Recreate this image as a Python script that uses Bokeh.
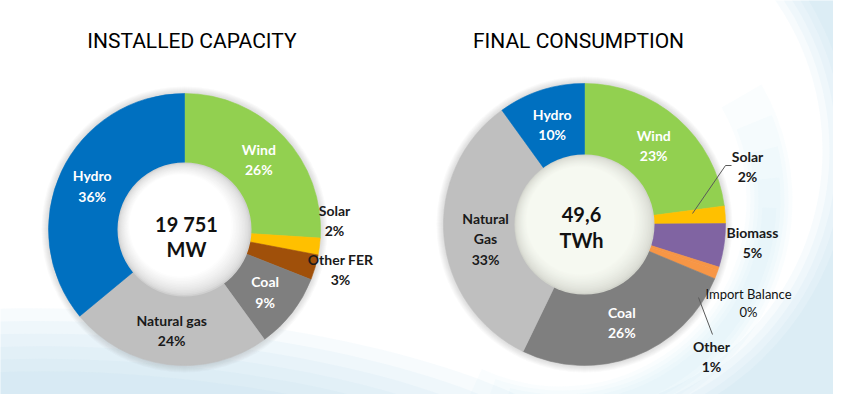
import numpy as np
from bokeh.plotting import figure
from bokeh.models import Range1d, ColumnDataSource
from bokeh.embed import file_html
from bokeh.resources import INLINE
from bokeh.core.properties import value

# ---------------- data ----------------
cap_title = "INSTALLED  CAPACITY"
cap_names = ["Wind", "Solar", "Other FER", "Coal", "Natural gas", "Hydro"]
cap_values = [26, 2, 3, 9, 24, 36]
cap_colors = ["#92D050", "#FFC000", "#A0500A", "#7F7F7F", "#BFBFBF", "#0070C0"]
cap_center = ["19 751", "MW"]

cons_title = "FINAL CONSUMPTION"
cons_names = ["Wind", "Solar", "Biomass", "Import Balance", "Other", "Coal", "Natural Gas", "Hydro"]
cons_values = [23, 2, 5, 0.4, 1, 26, 33, 10]
cons_colors = ["#92D050", "#FFC000", "#8064A2", "#F79646", "#F79646", "#7F7F7F", "#BFBFBF", "#0070C0"]
cons_center = ["49,6", "TWh"]

# ---------------- layout ----------------
W, H, M = 849, 410, 8
PW, PH = W - 2 * M, H - 2 * M
LABEL_FONT = value("Lato")
TITLE_FONT = value("Roboto")

p = figure(width=PW, height=PH,
           x_range=Range1d(0, PW), y_range=Range1d(H - PH, H),
           output_backend="svg", toolbar_location=None, min_border=0,
           x_axis_location=None, y_axis_location=None)
p.grid.visible = False
p.outline_line_color = None
p.background_fill_color = "white"
p.border_fill_color = "white"


def Y(y):
    return H - y


def mix(c1, c2, f):
    a = [int(c1[i:i + 2], 16) for i in (1, 3, 5)]
    b = [int(c2[i:i + 2], 16) for i in (1, 3, 5)]
    return "#%02x%02x%02x" % tuple(int(round(a[k] + (b[k] - a[k]) * f)) for k in range(3))


# ---- soft background swooshes (decoration) ----
d2r = np.pi / 180
for k in range(5):
    p.annular_wedge(x=560, y=Y(150), inner_radius=262 + 7 * k, outer_radius=420,
                    start_angle=(-85 + 4 * k) * d2r, end_angle=(80 - 6 * k) * d2r,
                    fill_color="#a9d2e6", fill_alpha=0.09, line_color=None)
for k in range(5):
    p.annular_wedge(x=560, y=Y(200), inner_radius=186 + 4 * k, outer_radius=232 - 4 * k,
                    start_angle=(-115 + 5 * k) * d2r, end_angle=(30 - 8 * k) * d2r,
                    fill_color="#bcdcec", fill_alpha=0.07, line_color=None)
for k in range(6):
    p.ellipse(x=[170], y=[Y(430)], width=[860 - 60 * k], height=[230 - 25 * k],
              angle=-0.10, fill_color="#b0d5e8", fill_alpha=0.10, line_color=None)
for k in range(3):
    p.ellipse(x=[540], y=[Y(420)], width=[340 - 60 * k], height=[50 - 8 * k],
              fill_color="#c9c2ea", fill_alpha=0.14, line_color=None)


def donut(cx, cy, r_in, r_out, vals, colors, edge, center_col):
    rs = [r_out + k for k in range(7, 0, -1)]
    p.circle(x=[cx] * len(rs), y=[Y(cy)] * len(rs), radius=rs,
             fill_color="#808080", fill_alpha=0.045, line_color=None)
    total = float(sum(vals))
    cum = np.concatenate([[0.0], np.cumsum(vals)]) / total
    src = ColumnDataSource(dict(
        start=np.pi / 2 - 2 * np.pi * cum[1:],
        end=np.pi / 2 - 2 * np.pi * cum[:-1],
        color=colors))
    p.annular_wedge(x=cx, y=Y(cy), inner_radius=r_in - 2, outer_radius=r_out,
                    start_angle="start", end_angle="end",
                    fill_color="color", line_color="color", line_width=0.6,
                    source=src)
    n = 14
    xs, ys, rr, cc = [], [], [], []
    for k in range(n):
        t = k / (n - 1)
        xs.append(cx - 4 * t)
        ys.append(Y(cy) + 4 * t)
        rr.append(r_in - 16 * t)
        cc.append(mix(edge, center_col, t ** 0.6))
    p.circle(x=xs, y=ys, radius=rr, fill_color=cc, line_color=None)
    p.circle(x=[cx - 5], y=[Y(cy) + 5], radius=[r_in - 18],
             fill_color=center_col, line_color=None)
    return (cum[:-1] + cum[1:]) / 2


def text(x, y, s, size, color="#000000", bold=True, font=LABEL_FONT):
    p.text(x=[x], y=[Y(y)], text=[s], text_font=font,
           text_font_size=f"{size}px", text_color=color,
           text_font_style="bold" if bold else "normal",
           text_align="center", text_baseline="middle")


def pct(v):
    return f"{int(round(v))}%"


def labels(cx, cy, r_lab, names, vals, mids, style, outside):
    for name, v, m in zip(names, vals, mids):
        a = 2 * np.pi * m
        kind = style.get(name, "in")
        if name in outside:
            x, y = outside[name]
        else:
            x = cx + r_lab * np.sin(a)
            y = cy - r_lab * np.cos(a)
        if kind == "small":
            text(x, y - 9, name, 13, "#111111", bold=False)
            text(x, y + 9, pct(v), 13, "#111111", bold=False)
            continue
        col = "#ffffff" if kind == "in" else "#1a1a1a"
        lines = name.split(" ") if kind == "stack" else [name]
        lines = lines + [pct(v)]
        step = 20.5
        y0 = y - step * (len(lines) - 1) / 2
        for i, s in enumerate(lines):
            text(x, y0 + i * step, s, 14, col, bold=True)


# ---- left donut ----
lcx, lcy = 184, 229
mids = donut(lcx, lcy, 67, 136, cap_values, cap_colors, "#cfcfcf", "#ffffff")
labels(lcx, lcy, 102, cap_names, cap_values, mids,
       {"Solar": "out", "Other FER": "out", "Natural gas": "dark"},
       {"Solar": (334, 220), "Other FER": (340, 269)})
text(186, 223, cap_center[0], 20, "#111111", bold=True)
text(186, 248, cap_center[1], 20, "#111111", bold=True)

# ---- right donut ----
rcx, rcy = 584, 224
mids = donut(rcx, rcy, 70, 141, cons_values, cons_colors, "#d2d4cc", "#f6f9f1")
p.line(x=[731, 725, 692], y=[Y(165), Y(165), Y(213)], line_color="#595959", line_width=1)
p.line(x=[712, 698], y=[Y(334), Y(297)], line_color="#595959", line_width=1)
labels(rcx, rcy, 105, cons_names, cons_values, mids,
       {"Solar": "out", "Biomass": "out", "Import Balance": "small",
        "Other": "out", "Natural Gas": "stack"},
       {"Solar": (747, 166), "Biomass": (752, 242), "Import Balance": (748, 302),
        "Other": (711, 356), "Natural Gas": (485, 238)})
text(581, 214, cons_center[0], 20, "#111111", bold=True)
text(581, 239, cons_center[1], 20, "#111111", bold=True)

# ---- titles ----
for tx, s in ((194, cap_title), (578, cons_title)):
    p.text(x=[tx], y=[Y(40)], text=[s], text_font=TITLE_FONT,
           text_font_size="21px", text_color="#000000",
           text_align="center", text_baseline="middle")

open("out.html", "w").write(file_html(p, INLINE))
